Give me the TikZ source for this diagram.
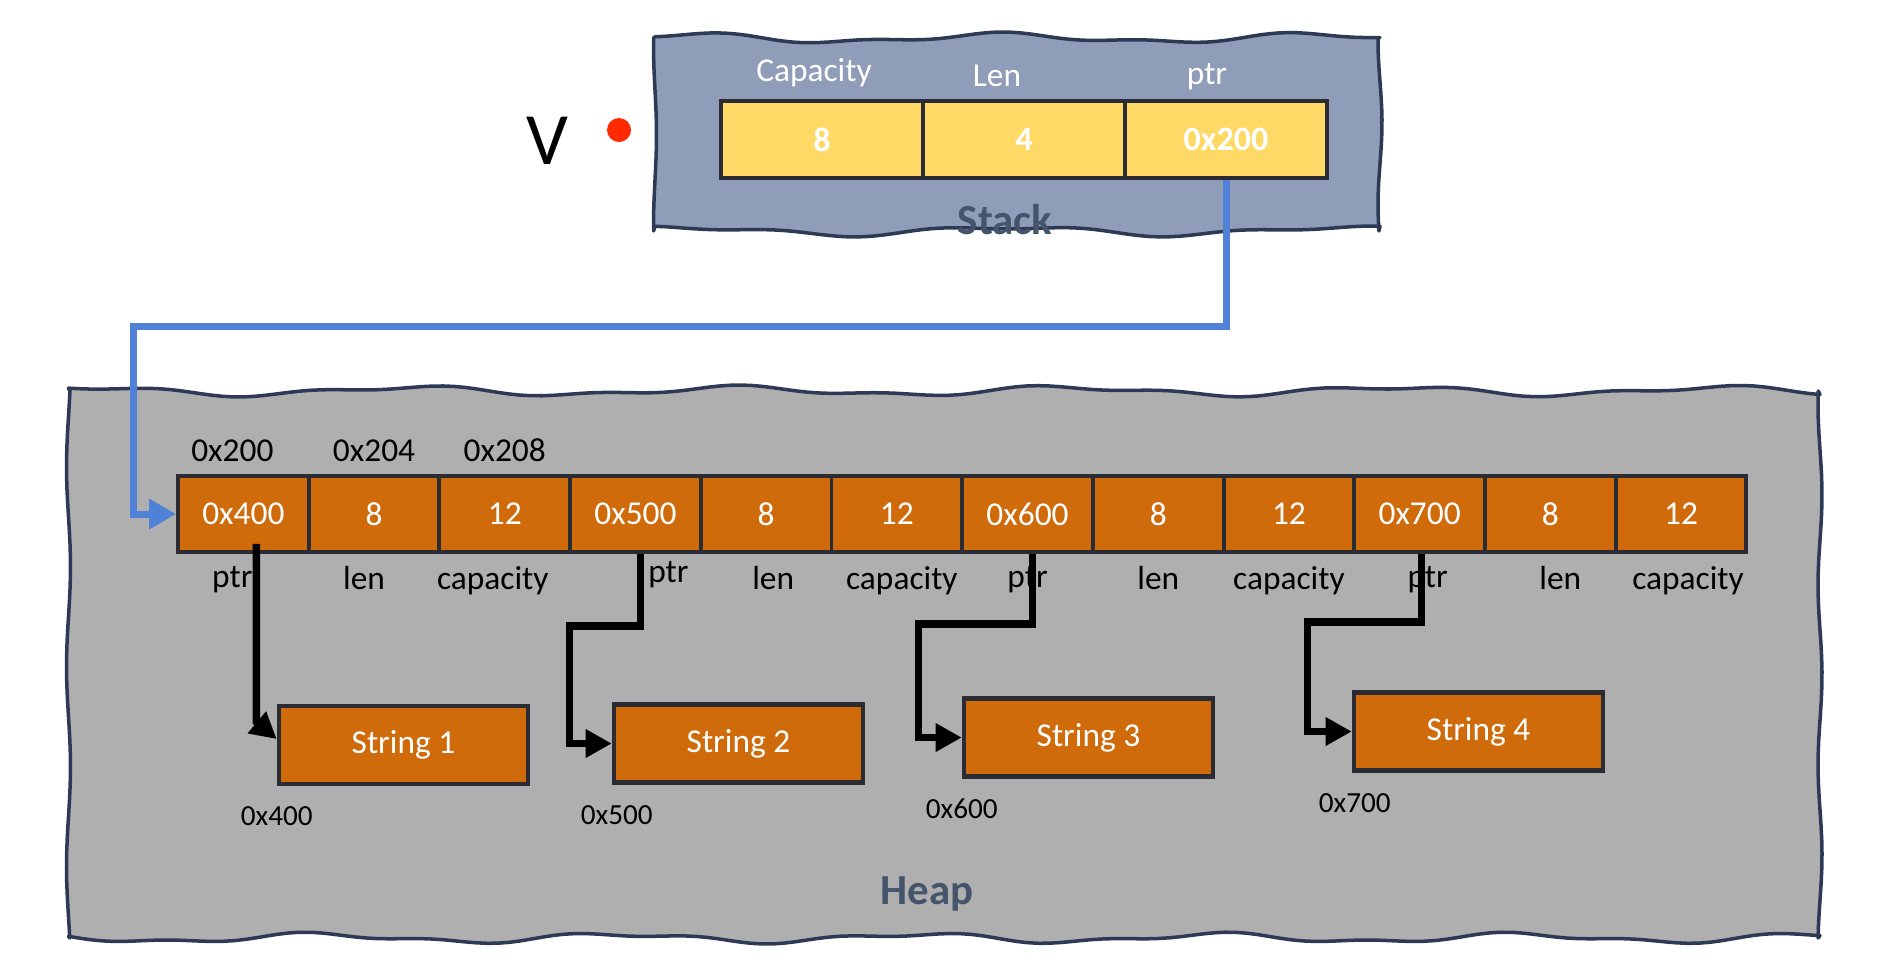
\documentclass[tikz,border=0pt]{standalone}
\usepackage{fontspec}
\setmainfont{Carlito}
\usetikzlibrary{arrows.meta,positioning}
\definecolor{stackfill}{HTML}{8F9DB9}
\definecolor{heapfill}{HTML}{AFAFAF}
\definecolor{edgenavy}{HTML}{2E3A55}
\definecolor{cellyellow}{HTML}{FFD966}
\definecolor{cellorange}{HTML}{D06B0C}
\definecolor{cellline}{HTML}{2B2B33}
\definecolor{titleslate}{HTML}{44546A}
\definecolor{linkblue}{HTML}{4F81D6}
\definecolor{dotred}{HTML}{FF2A00}
\tikzstyle{region}=[draw=edgenavy,line width=1pt,line join=round]
\tikzstyle{scell}=[rectangle,draw=cellline,line width=1.1pt,fill=cellyellow,text=white,
font=\fontsize{9.7}{11}\selectfont\bfseries,minimum width=2.02cm,minimum height=0.77cm,inner sep=0pt]
\tikzstyle{hcell}=[rectangle,draw=cellline,line width=1.1pt,fill=cellorange,text=white,
font=\fontsize{9.5}{11}\selectfont,minimum width=1.307cm,minimum height=0.76cm,inner sep=0pt]
\tikzstyle{strbox}=[rectangle,draw=cellline,line width=1.3pt,fill=cellorange,text=white,
font=\fontsize{9.5}{11}\selectfont,minimum width=2.49cm,minimum height=0.78cm]
\tikzstyle{addr}=[font=\fontsize{8.3}{10}\selectfont]
\tikzstyle{regionname}=[text=titleslate,font=\fontsize{12.2}{14}\selectfont\bfseries]
\tikzstyle{bluelink}=[draw=linkblue,line width=2pt,-{Triangle[length=0.27cm,width=0.29cm]}]
\tikzstyle{ptrlink}=[draw=black,line width=2.1pt,-{Triangle[length=0.26cm,width=0.27cm]}]

\begin{document}
\begin{tikzpicture}[node distance=1.307cm,every label/.style={text=black,font=\fontsize{9.5}{11}\selectfont}]
		\useasboundingbox (0,0) rectangle (18.85,-9.72);

		\draw[region,fill=heapfill] plot[domain=0.685:18.2,samples=160] (\x,{-3.91+0.04*sin(110*\x)+0.02*sin(250*\x+40)})
			-- plot[domain=-3.91:-9.38,samples=40] ({18.2+0.02*sin(200*\x)},\x)
			-- plot[domain=18.2:0.685,samples=160] (\x,{-9.38+0.04*sin(120*\x+70)+0.02*sin(270*\x)})
			-- plot[domain=-9.38:-3.91,samples=40] ({0.685+0.02*sin(180*\x+30)},\x) -- cycle;
		\draw[region,fill=stackfill] plot[domain=6.55:13.8,samples=80] (\x,{-0.38+0.04*sin(115*\x+20)+0.02*sin(260*\x)})
			-- plot[domain=-0.38:-2.31,samples=20] ({13.8+0.02*sin(220*\x)},\x)
			-- plot[domain=13.8:6.55,samples=80] (\x,{-2.31+0.04*sin(110*\x+60)+0.02*sin(240*\x+10)})
			-- plot[domain=-2.31:-0.38,samples=20] ({6.55+0.015*sin(200*\x)},\x) -- cycle;

		\node[font=\fontsize{21}{24}\selectfont] (v) at (5.47,-1.41) {V};
		\node[circle,fill=dotred,minimum size=0.24cm,inner sep=0pt] (dot) at (6.19,-1.30) {};

		\node[scell,label={[text=white,xshift=-0.08cm]above:Capacity}] (cap) at (8.22,-1.395) {8};
		\node[scell,right of=cap,node distance=2.02cm,label={[text=white,xshift=-0.27cm]above:Len}] (len) {4};
		\node[scell,right of=len,node distance=2.02cm,label={[text=white,xshift=-0.19cm,yshift=-0.03cm]above:ptr}] (ptr) {0x200};
		\node[regionname,below=0.12cm of len,xshift=-0.19cm] (stackname) {Stack};

		\node[hcell,label={[xshift=-0.11cm]above:0x200},label={[xshift=-0.11cm]below:ptr}] (h1) at (2.4335,-5.14) {0x400};
		\node[hcell,right of=h1,label=above:0x204,label={[xshift=-0.1cm]below:len}] (h2) {8};
		\node[hcell,right of=h2,label=above:0x208,label={[xshift=-0.12cm]below:capacity}] (h3) {12};
		\node[hcell,right of=h3,label={[xshift=0.33cm,yshift=0.05cm]below:ptr}] (h4) {0x500};
		\node[hcell,right of=h4,label={[xshift=0.07cm]below:len}] (h5) {8};
		\node[hcell,right of=h5,label={[xshift=0.05cm]below:capacity}] (h6) {12};
		\node[hcell,right of=h6,label=below:ptr] (h7) {0x600};
		\node[hcell,right of=h7,label=below:len] (h8) {8};
		\node[hcell,right of=h8,label=below:capacity] (h9) {12};
		\node[hcell,right of=h9,label={[xshift=0.08cm]below:ptr}] (h10) {0x700};
		\node[hcell,right of=h10,label={[xshift=0.1cm]below:len}] (h11) {8};
		\node[hcell,right of=h11,label={[xshift=0.07cm]below:capacity}] (h12) {12};

		\node[strbox] (str1) at (4.035,-7.45) {String 1};
		\node[strbox] (str2) at (7.385,-7.435) {String 2};
		\node[strbox] (str3) at (10.885,-7.375) {String 3};
		\node[strbox] (str4) at (14.785,-7.315) {String 4};
		\node[addr,below=0.08cm of str1.south west] (a1) {0x400};
		\node[addr,below=0.08cm of str2.south west,xshift=0.05cm] (a2) {0x500};
		\node[addr,below=0.08cm of str3.south west] (a3) {0x600};
		\node[addr,below=0.08cm of str4.south west,xshift=0.03cm] (a4) {0x700};
		\node[regionname] (heapname) at (9.27,-8.94) {Heap};

		\draw[bluelink] (ptr.south) -- ++(0,-1.47) -| ([xshift=-0.43cm]h1.west) -- (h1.west);

		\draw[ptrlink] ([xshift=0.13cm,yshift=0.1cm]h1.south) -- ++(0,-1.78) -- ([yshift=0.06cm]str1.west);
		\draw[ptrlink] ([xshift=0.05cm]h4.south) -- ++(0,-0.72) -| ([xshift=-0.42cm]str2.west) -- (str2.west);
		\draw[ptrlink] ([xshift=0.05cm]h7.south) -- ++(0,-0.7) -| ([xshift=-0.43cm]str3.west) -- (str3.west);
		\draw[ptrlink] ([xshift=0.02cm]h10.south) -- ++(0,-0.68) -| ([xshift=-0.44cm]str4.west) -- (str4.west);

	\end{tikzpicture}
\end{document}
